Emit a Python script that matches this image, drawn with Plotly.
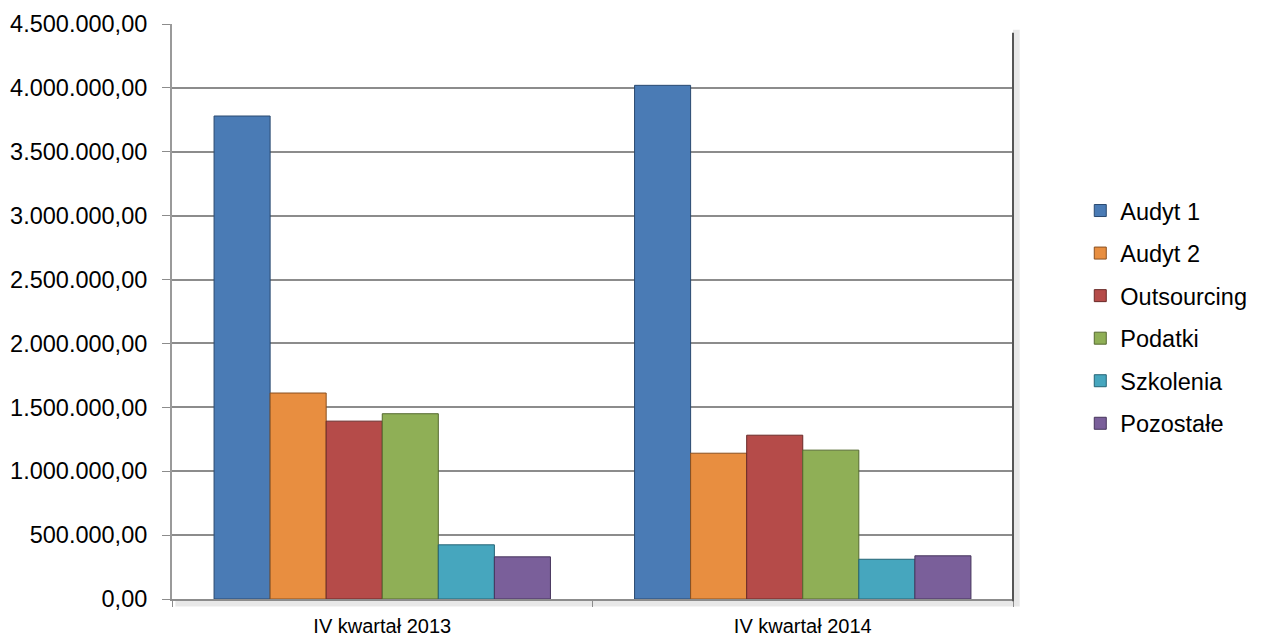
import plotly.graph_objects as go

categories = ["IV kwartał 2013", "IV kwartał 2014"]
series_names = ["Audyt 1", "Audyt 2", "Outsourcing", "Podatki", "Szkolenia", "Pozostałe"]
audyt1 = [3780000, 4020000]
audyt2 = [1612000, 1141000]
outsourcing = [1392000, 1282000]
podatki = [1450000, 1165000]
szkolenia = [424000, 311000]
pozostale = [330000, 338000]
tick_values = [0, 500000, 1000000, 1500000, 2000000, 2500000, 3000000, 3500000, 4000000, 4500000]
tick_labels = ["0,00", "500.000,00", "1.000.000,00", "1.500.000,00", "2.000.000,00",
               "2.500.000,00", "3.000.000,00", "3.500.000,00", "4.000.000,00", "4.500.000,00"]

series_values = [audyt1, audyt2, outsourcing, podatki, szkolenia, pozostale]
colors = ["#4A7BB5", "#E88E40", "#B54B49", "#8FAF56", "#46A6BE", "#7A5F9A"]
edge = ["#2A4A70", "#8A5020", "#6A2A28", "#55692F", "#256475", "#46355C"]

fig = go.Figure()
for name, vals, c, e in zip(series_names, series_values, colors, edge):
    fig.add_trace(go.Bar(
        x=categories, y=vals, name=name, legendgroup=name,
        marker=dict(color=c, line=dict(color=e, width=1)),
    ))

# soft frame shadow on the right and bottom of the plot area
fig.add_shape(type="rect", xref="paper", yref="paper", x0=0.004, x1=1.008, y0=-0.013, y1=0.99,
              fillcolor="rgba(0,0,0,0.09)", line=dict(width=0), layer="below")
fig.add_shape(type="rect", xref="paper", yref="paper", x0=0.0, x1=1.0, y0=0.0, y1=1.0,
              fillcolor="white", line=dict(width=0), layer="below")
fig.add_shape(type="line", xref="paper", yref="paper", x0=1.0, x1=1.0, y0=-0.004, y1=0.985,
              line=dict(color="#555555", width=2))

fig.update_layout(
    width=1264, height=637,
    barmode="group", bargap=0.2, bargroupgap=0,
    paper_bgcolor="white", plot_bgcolor="rgba(0,0,0,0)",
    margin=dict(l=164, r=259, t=16, b=46, autoexpand=False),
    font=dict(family="Liberation Sans, Arial, sans-serif", size=22, color="black"),
    legend=dict(
        x=1.08, xanchor="left", xref="paper", y=0.49, yanchor="middle",
        font=dict(size=23.5, color="black"), tracegroupgap=9,
        bgcolor="rgba(0,0,0,0)",
    ),
    showlegend=True,
)
fig.update_yaxes(
    range=[0, 4500000], tickvals=tick_values, ticktext=tick_labels,
    showgrid=True, gridcolor="#8C8C8C", gridwidth=1.5,
    showline=True, linecolor="#9A9A9A", linewidth=2,
    ticks="outside", ticklen=8, tickcolor="#8C8C8C", automargin=False,
    tickfont=dict(size=23.5), zeroline=False, ticklabelstandoff=10,
)
fig.update_xaxes(
    showline=True, linecolor="#8C8C8C", linewidth=2, automargin=False,
    ticks="outside", tickson="boundaries", ticklen=6, tickcolor="#8C8C8C",
    tickfont=dict(size=20), ticklabelstandoff=8,
)

fig.write_html("out.html")
